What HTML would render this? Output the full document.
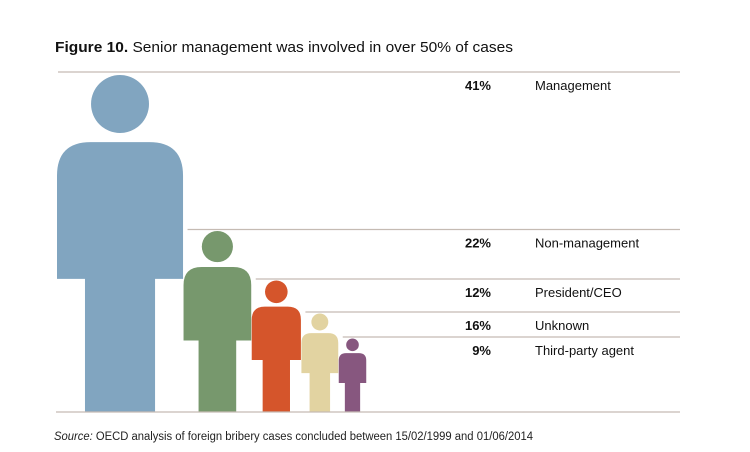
<!DOCTYPE html>
<html><head><meta charset="utf-8">
<style>
html,body{margin:0;padding:0;background:#fff;}
svg{display:block;font-family:"Liberation Sans",Arial,sans-serif;}
</style></head>
<body>
<svg id="chart" width="750" height="452" viewBox="0 0 750 452">
  <text x="55" y="52" font-size="15" fill="#111" textLength="458" lengthAdjust="spacingAndGlyphs"><tspan font-weight="bold">Figure 10.</tspan> Senior management was involved in over 50% of cases</text>
  <g id="marks"></g>
  <line x1="56" y1="412" x2="680" y2="412" stroke="#c5bbb3" stroke-width="1.3"/>
  <text x="54" y="440" font-size="11.5" fill="#222" textLength="479" lengthAdjust="spacingAndGlyphs"><tspan font-style="italic">Source:</tspan> OECD analysis of foreign bribery cases concluded between 15/02/1999 and 01/06/2014</text>
</svg>
<script>
const categories = ["Management","Non-management","President/CEO","Unknown","Third-party agent"];
const values = [41, 22, 12, 16, 9];
const valueLabels = ["41%","22%","12%","16%","9%"];
const figureHeights = [337, 181, 131.5, 98.5, 73.5];
const colors = ["#81a5c0","#77986d","#d5552b","#e2d3a1","#87577f"];

const NS = "http://www.w3.org/2000/svg";
const g = document.getElementById("marks");
const baseY = 412, startX = 57, lineEnd = 680;
function mk(tag, attrs){const e=document.createElementNS(NS,tag);for(const k in attrs)e.setAttribute(k,attrs[k]);return e;}

let x = startX;
categories.forEach((cat, i) => {
  const H = figureHeights[i];
  const W = 0.374 * H;
  const top = baseY - H;
  const r = 0.086 * H;
  const bodyTop = top + 0.199 * H;
  const shoulderBottom = top + 0.605 * H;
  const legW = 0.556 * W;
  const legX = x + (W - legW) / 2;
  const cr = 0.1 * H;

  const fig = mk("g", {});
  
  

  const head = mk("circle", {cx: x + W/2, cy: top + r, r: r, fill: colors[i]});
  
  
  fig.appendChild(head);

  const d = `M${x},${shoulderBottom} L${x},${bodyTop+cr} Q${x},${bodyTop} ${x+cr},${bodyTop} L${x+W-cr},${bodyTop} Q${x+W},${bodyTop} ${x+W},${bodyTop+cr} L${x+W},${shoulderBottom} L${legX+legW},${shoulderBottom} L${legX+legW},${baseY} L${legX},${baseY} L${legX},${shoulderBottom} Z`;
  const body = mk("path", {d: d, fill: colors[i]});
  
  
  fig.appendChild(body);
  g.appendChild(fig);

  const lineY = top - (i === 0 ? 3 : 1.5);
  const lx = i === 0 ? 58 : x + 4;
  const ln = mk("line", {x1: lx, y1: lineY, x2: lineEnd, y2: lineY, stroke: "#c5bbb3", "stroke-width": 1.3});
  
  
  g.appendChild(ln);

  const vt = mk("text", {x: 491, y: lineY + 18, "font-size": 13, "font-weight": "bold", "text-anchor": "end", fill: "#111"});
  vt.textContent = valueLabels[i];
  
  
  g.appendChild(vt);

  const ct = mk("text", {x: 535, y: lineY + 18, "font-size": 13, fill: "#111"});
  ct.textContent = cat;
  
  
  g.appendChild(ct);

  x += W + 0.5;
});
</script>
</body></html>
